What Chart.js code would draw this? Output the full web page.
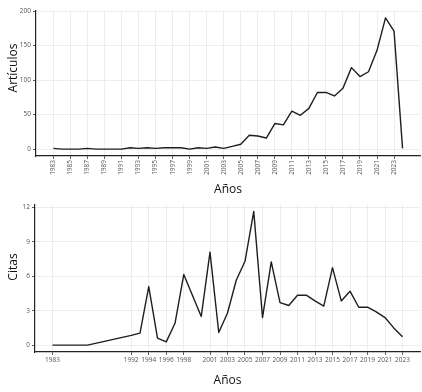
<!DOCTYPE html>
<html>
<head>
<meta charset="utf-8">
<script src="https://cdn.jsdelivr.net/npm/chart.js@4.4.1/dist/chart.umd.min.js"></script>
<style>
  body { margin: 0; background: #fff; width: 422px; height: 392px; overflow: hidden; position: relative; font-family: "Open Sans", sans-serif; }
  .box { position: absolute; left: 0; }
  .ytitle { position: absolute; font-size: 12px; color: #111; transform: translate(-50%, -50%) rotate(-90deg); white-space: nowrap; }
</style>
</head>
<body>
<div class="box" style="top:0"><canvas id="chartArt" width="422" height="200"></canvas></div>
<div class="box" style="top:190px"><canvas id="chartCit" width="422" height="202"></canvas></div>
<div class="ytitle" style="left:12px; top:68px">Artículos</div>
<div class="ytitle" style="left:12px; top:267px">Citas</div>
<script>
// articles per year
const yearsArt = [1983, 1984, 1985, 1986, 1987, 1988, 1989, 1990, 1991, 1992, 1993, 1994, 1995, 1996,
  1997, 1998, 1999, 2000, 2001, 2002, 2003, 2004, 2005, 2006, 2007, 2008, 2009, 2010, 2011, 2012,
  2013, 2014, 2015, 2016, 2017, 2018, 2019, 2020, 2021, 2022, 2023, 2024];
const articulos = [1, 0, 0, 0, 1, 0, 0, 0, 0, 2, 1, 2, 1, 2,
  2, 2, 0, 2, 1, 3, 1, 4, 7, 20, 19, 16, 37, 35, 55, 49,
  59, 82, 82, 77, 88, 118, 105, 112, 143, 190, 171, 1];
const artXTicks = [1983, 1985, 1987, 1989, 1991, 1993, 1995, 1997, 1999, 2001, 2003, 2005,
  2007, 2009, 2011, 2013, 2015, 2017, 2019, 2021, 2023];
const artYTicks = [0, 50, 100, 150, 200];

// citations per year
const yearsCit = [1983, 1987, 1992, 1993, 1994, 1995, 1996, 1997, 1998, 2000, 2001, 2002, 2003,
  2004, 2005, 2006, 2007, 2008, 2009, 2010, 2011, 2012, 2013, 2014, 2015, 2016, 2017, 2018,
  2019, 2020, 2021, 2022, 2023];
const citas = [0, 0, 0.85, 1.05, 5.1, 0.6, 0.28, 1.9, 6.15, 2.5, 8.1, 1.1, 2.8,
  5.65, 7.3, 11.65, 2.4, 7.25, 3.7, 3.45, 4.35, 4.35, 3.85, 3.4, 6.75, 3.85, 4.7, 3.3,
  3.3, 2.9, 2.4, 1.5, 0.72];
const citXTicks = [1983, 1992, 1994, 1996, 1998, 2001, 2003, 2005, 2007, 2009, 2011, 2013,
  2015, 2017, 2019, 2021, 2023];
const citYTicks = [0, 3, 6, 9, 12];

const gridColor = "#e9e9e9";
const tickFont = { family: "Open Sans", size: 6.5 };
const titleFont = { family: "Open Sans", size: 12 };

function toPoints(xs, ys) {
  return xs.map((x, i) => ({ x: x, y: ys[i] }));
}

function makeChart(id, opts) {
  const ctx = document.getElementById(id).getContext("2d");
  return new Chart(ctx, {
    type: "line",
    data: {
      datasets: [
        {
          data: toPoints(opts.xs, opts.ys),
          borderColor: "#1e1e1e",
          borderWidth: 1.4,
          borderJoinStyle: "round",
          pointRadius: 0,
          tension: 0,
          fill: false,
        },
      ],
    },
    options: {
      responsive: false,
      animation: false,
      layout: { padding: { top: opts.padTop, right: 2, left: 0, bottom: 0 } },
      plugins: { legend: { display: false }, tooltip: { enabled: false } },
      scales: {
        x: {
          type: "linear",
          min: opts.xMin,
          max: opts.xMax,
          afterBuildTicks: (s) => { s.ticks = opts.xTicks.map((v) => ({ value: v })); },
          afterFit: (s) => { s.height = opts.xHeight; },
          ticks: {
            font: tickFont,
            color: "#555",
            padding: 1,
            autoSkip: false,
            minRotation: opts.rot,
            maxRotation: opts.rot,
            callback: (v) => String(v),
          },
          grid: { color: gridColor, lineWidth: 0.8, tickLength: 3, tickColor: "#333" },
          border: { color: "#222", width: 1.2 },
          title: {
            display: true,
            text: "Años",
            font: titleFont,
            color: "#111",
            padding: { top: 0, bottom: opts.titlePad },
          },
        },
        y: {
          min: opts.yMin,
          max: opts.yMax,
          afterBuildTicks: (s) => { s.ticks = opts.yTicks.map((v) => ({ value: v })); },
          afterFit: (s) => { s.width = opts.yWidth; },
          ticks: { font: tickFont, color: "#555", padding: 2 },
          grid: { color: gridColor, lineWidth: 0.8, tickLength: 3, tickColor: "#333" },
          border: { color: "#222", width: 1.2 },
        },
      },
    },
  });
}

makeChart("chartArt", {
  xs: yearsArt, ys: articulos, xTicks: artXTicks, yTicks: artYTicks,
  xMin: 1980.95, xMax: 2026.05, yMin: -10, yMax: 200,
  padTop: 11, xHeight: 44, yWidth: 36, rot: 90, titlePad: 3,
});

makeChart("chartCit", {
  xs: yearsCit, ys: citas, xTicks: citXTicks, yTicks: citYTicks,
  xMin: 1981, xMax: 2025, yMin: -0.6, yMax: 12.25,
  padTop: 14.5, xHeight: 40, yWidth: 35, rot: 0, titlePad: 4,
});
</script>
</body>
</html>
